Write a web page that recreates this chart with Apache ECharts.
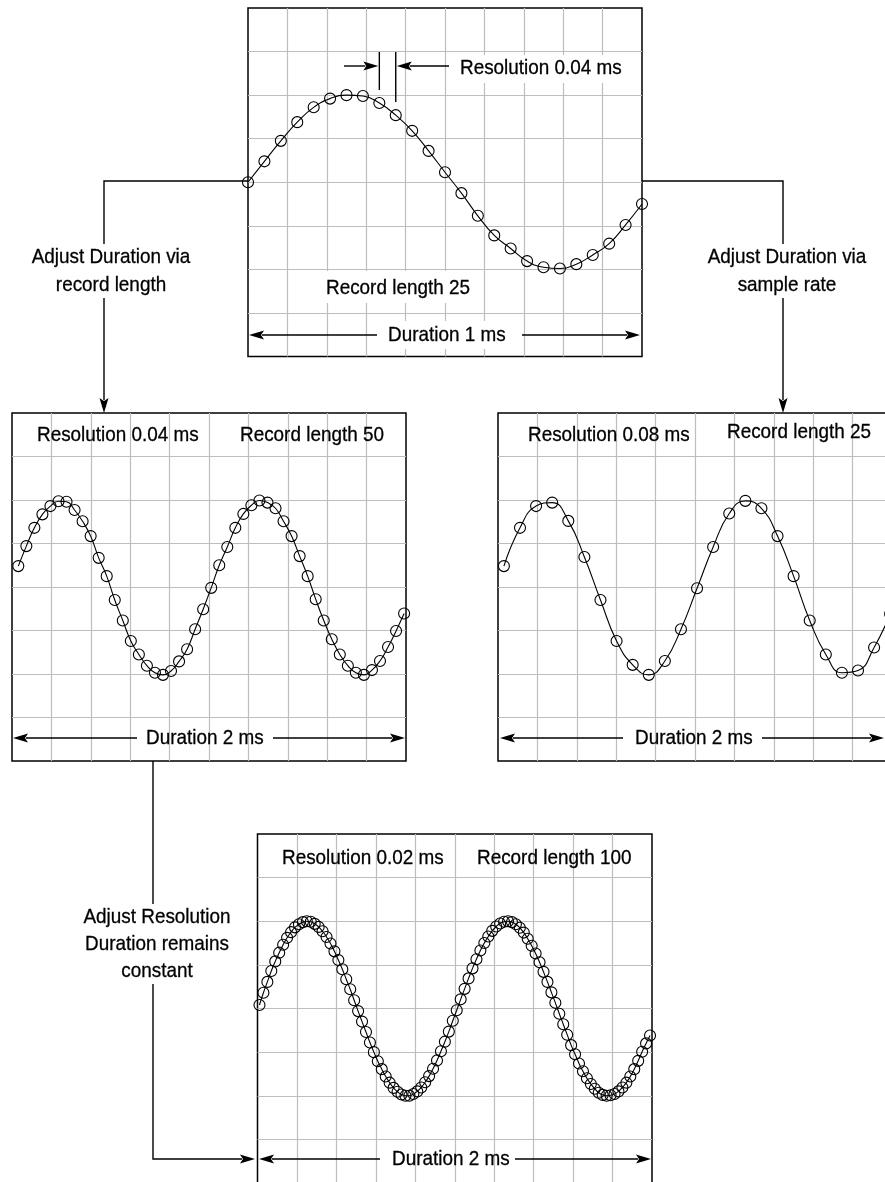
<!DOCTYPE html>
<html>
<head>
<meta charset="utf-8">
<script src="https://cdn.jsdelivr.net/npm/echarts@6/dist/echarts.min.js"></script>
<style>
html, body { margin: 0; padding: 0; background: #fff; }
#chart { width: 885px; height: 1182px; }
</style>
</head>
<body>
<div id="chart"></div>
<script>
// sample heights in screen divisions (-4..4)
const topValues = [0, 0.48, 0.95, 1.38, 1.72, 1.92, 2.0, 1.98, 1.82, 1.54, 1.18, 0.72, 0.23, -0.25, -0.77,
    -1.22, -1.52, -1.81, -1.95, -1.98, -1.88, -1.67, -1.41, -0.98, -0.5];
const lengthValues = [0.48, 0.94, 1.36, 1.67, 1.86, 1.97, 1.96, 1.77, 1.51, 1.17, 0.67, 0.25, -0.30, -0.77,
    -1.24, -1.55, -1.81, -1.97, -2.02, -1.93, -1.71, -1.43, -0.97, -0.51, -0.02, 0.50, 0.92, 1.36, 1.68,
    1.88, 1.99, 1.94, 1.81, 1.51, 1.17, 0.71, 0.25, -0.28, -0.77, -1.20, -1.55, -1.81, -1.97, -2.02,
    -1.91, -1.70, -1.38, -1.01, -0.61];
const rateValues = [0.48, 1.36, 1.86, 1.94, 1.52, 0.69, -0.30, -1.24, -1.79, -2.02, -1.70, -0.97, -0.03,
    0.92, 1.69, 1.98, 1.81, 1.17, 0.25, -0.77, -1.55, -1.97, -1.92, -1.39, -0.62];
const resValues = [0.08, 0.36, 0.61, 0.86, 1.08, 1.28, 1.46, 1.62, 1.75, 1.86,
    1.93, 1.98, 2.00, 1.99, 1.94, 1.87, 1.77, 1.64, 1.49, 1.31,
    1.11, 0.90, 0.67, 0.44, 0.19, -0.06, -0.30, -0.54, -0.78, -1.00,
    -1.21, -1.39, -1.56, -1.70, -1.82, -1.91, -1.97, -2.00, -2.00, -1.96,
    -1.90, -1.81, -1.69, -1.55, -1.38, -1.19, -0.98, -0.76, -0.53, -0.28,
    -0.04, 0.21, 0.45, 0.69, 0.92, 1.13, 1.33, 1.50, 1.65, 1.78,
    1.88, 1.95, 1.99, 2.00, 1.98, 1.93, 1.85, 1.74, 1.60, 1.44,
    1.26, 1.06, 0.84, 0.61, 0.37, 0.13, -0.12, -0.36, -0.60, -0.84,
    -1.05, -1.26, -1.44, -1.60, -1.73, -1.84, -1.93, -1.98, -2.00, -1.99,
    -1.96, -1.90, -1.81, -1.70, -1.56, -1.39, -1.20, -0.99, -0.80, -0.62];

// sampling: time of first sample and spacing (ms), as drawn
const topStart = 0, topStep = 1 / 24;
const lengthStart = 0.032, lengthStep = 0.0408;
const rateStart = 0.03, rateStep = 0.0817;
const resStart = 0.01, resStep = 0.02;

const panels = [
    {left: 248, top: 8, width: 394, height: 348.5, max: 1, values: topValues, start: topStart, step: topStep},
    {left: 12, top: 413, width: 394, height: 348, max: 2, values: lengthValues, start: lengthStart, step: lengthStep},
    {left: 498, top: 413, width: 394, height: 348, max: 2, values: rateValues, start: rateStart, step: rateStep},
    {left: 257.5, top: 834, width: 394.5, height: 349, max: 2, values: resValues, start: resStart, step: resStep}
];

const FONT = '21px "Liberation Sans", Arial, sans-serif';
const GRID_LINE = {color: '#bdbdbd', width: 1.2};

let chart = echarts.init(document.getElementById('chart'));

let grids = [], xAxes = [], yAxes = [], series = [];
panels.forEach((p, i) => {
    grids.push({
        left: p.left, top: p.top, width: p.width, height: p.height,
        show: true, borderColor: '#000', borderWidth: 1.5,
        backgroundColor: 'transparent', containLabel: false, outerBoundsMode: 'none'
    });
    xAxes.push({
        gridIndex: i, type: 'value', min: 0, max: p.max, interval: p.max / 10,
        axisLine: {show: false}, axisTick: {show: false}, axisLabel: {show: false},
        splitLine: {show: true, showMinLine: false, showMaxLine: false, lineStyle: GRID_LINE}
    });
    yAxes.push({
        gridIndex: i, type: 'value', min: -4, max: 4, interval: 1,
        axisLine: {show: false}, axisTick: {show: false}, axisLabel: {show: false},
        splitLine: {show: true, showMinLine: false, showMaxLine: false, lineStyle: GRID_LINE}
    });
    series.push({
        type: 'line', xAxisIndex: i, yAxisIndex: i,
        data: p.values.map((v, k) => [p.start + k * p.step, v]),
        smooth: true, symbol: 'circle', symbolSize: 11, clip: true,
        lineStyle: {color: '#000', width: 1.1},
        itemStyle: {color: 'rgba(255,255,255,0)', borderColor: '#000', borderWidth: 1.1},
        emphasis: {disabled: true}, z: 3
    });
});

chart.setOption({
    animation: false,
    backgroundColor: '#fff',
    grid: grids, xAxis: xAxes, yAxis: yAxes, series: series
});

// ---- annotations (arrows, connectors, labels) ----
let els = [];

function path(points) {
    els.push({type: 'polyline', shape: {points}, style: {stroke: '#000', lineWidth: 1.4, fill: null}, z: 40});
}
function arrow(points) {
    let n = points.length, [x1, y1] = points[n - 2], [x2, y2] = points[n - 1];
    let len = Math.hypot(x2 - x1, y2 - y1), ux = (x2 - x1) / len, uy = (y2 - y1) / len;
    let L = 15, W = 4.5;
    let bx = x2 - ux * L, by = y2 - uy * L;
    let pts = points.slice(0, n - 1).concat([[bx + ux * 2, by + uy * 2]]);
    path(pts);
    els.push({
        type: 'polygon',
        shape: {points: [[x2, y2], [bx - uy * W, by + ux * W], [bx + ux * 3, by + uy * 3], [bx + uy * W, by - ux * W]]},
        style: {fill: '#000'}, z: 41
    });
}
function blank(x, y, w, h) {
    els.push({type: 'rect', shape: {x, y, width: w, height: h}, style: {fill: '#fff'}, z: 42});
}
function text(str, x, y, align) {
    els.push({
        type: 'text', x, y, scaleX: 0.9,
        style: {text: str, font: FONT, fill: '#000', stroke: '#000', lineWidth: 0.3,
            textAlign: align || 'left', textVerticalAlign: 'middle'},
        z: 44
    });
}

// top panel: resolution marker
let m1 = chart.convertToPixel({xAxisIndex: 0}, topStart + 8 * topStep);
let m2 = chart.convertToPixel({xAxisIndex: 0}, topStart + 9 * topStep);
path([[m1, 52], [m1, 90]]);
path([[m2, 52], [m2, 102]]);
arrow([[344, 66], [m1 - 1, 66]]);
arrow([[449, 66], [m2 + 1, 66]]);
blank(455, 55, 172, 28);
text('Resolution 0.04 ms', 460, 68);
blank(320, 271, 157, 32);
text('Record length 25', 326, 288);
arrow([[377, 335], [249, 335]]);
arrow([[522, 335], [640, 335]]);
blank(383, 321, 130, 28);
text('Duration 1 ms', 388, 335);

// connectors from the top panel
arrow([[248, 181], [104, 181], [104, 413]]);
blank(28, 244, 168, 54);
text('Adjust Duration via', 111, 257, 'center');
text('record length', 111, 285, 'center');

arrow([[642, 181], [783, 181], [783, 413]]);
blank(703, 244, 168, 54);
text('Adjust Duration via', 787, 257, 'center');
text('sample rate', 787, 285, 'center');

// record length panel
text('Resolution 0.04 ms', 37, 435);
text('Record length 50', 240, 435);
arrow([[137, 738], [13, 738]]);
arrow([[273, 738], [405, 738]]);
text('Duration 2 ms', 146, 738);

// sample rate panel
text('Resolution 0.08 ms', 528, 435);
text('Record length 25', 727, 432);
arrow([[623, 738], [500, 738]]);
arrow([[762, 738], [884, 738]]);
text('Duration 2 ms', 635, 738);

// connector to the resolution panel
arrow([[153, 761], [153, 1159], [255, 1159]]);
blank(75, 904, 165, 80);
text('Adjust Resolution', 157, 917, 'center');
text('Duration remains', 157, 944, 'center');
text('constant', 157, 971, 'center');

// resolution panel
text('Resolution 0.02 ms', 282, 858);
text('Record length 100', 477, 858);
arrow([[380, 1159], [259, 1159]]);
arrow([[515, 1159], [651, 1159]]);
text('Duration 2 ms', 392, 1159);

chart.setOption({graphic: {elements: els}});
</script>
</body>
</html>
